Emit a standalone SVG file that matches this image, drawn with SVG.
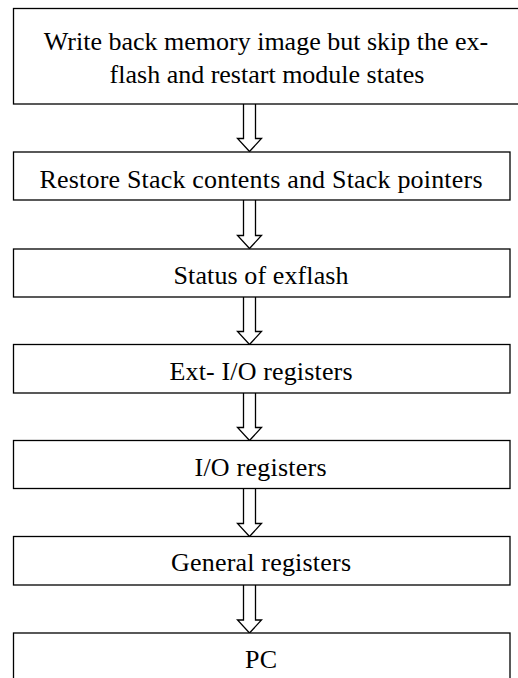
<svg xmlns="http://www.w3.org/2000/svg" width="518" height="678" viewBox="0 0 518 678">
  <defs>
    <style>
      .box { fill: #ffffff; stroke: #000000; stroke-width: 1.3; }
      .lbl { font-family: "Liberation Serif", "Times New Roman", serif; font-size: 26px; fill: #000000; }
      .mid { text-anchor: middle; }
      .arrow { fill: #ffffff; stroke: #000000; stroke-width: 1.3; stroke-linejoin: miter; }
    </style>
  </defs>
  <rect width="518" height="678" fill="#ffffff"/>

  <!-- hollow block arrows between consecutive steps -->
  <g id="connectors">
    <path class="arrow" d="M243.5,104 V138.5 H237.5 L249.5,151.5 L261.5,138.5 H255.5 V104"/>
    <path class="arrow" d="M243.5,200 V235.5 H237.5 L249.5,248.5 L261.5,235.5 H255.5 V200"/>
    <path class="arrow" d="M243.5,297 V331.5 H237.5 L249.5,344.5 L261.5,331.5 H255.5 V297"/>
    <path class="arrow" d="M243.5,393 V427.5 H237.5 L249.5,440.5 L261.5,427.5 H255.5 V393"/>
    <path class="arrow" d="M243.5,488.5 V523.5 H237.5 L249.5,536.5 L261.5,523.5 H255.5 V488.5"/>
    <path class="arrow" d="M243.5,585 V620 H237.5 L249.5,633 L261.5,620 H255.5 V585"/>
  </g>

  <g id="write-back">
    <rect class="box" x="13.5" y="8.5" width="512" height="95.5"/>
    <text class="lbl mid" x="266" y="50">Write back memory image but skip the ex-</text>
    <text class="lbl mid" x="267" y="83">flash and restart module states</text>
  </g>

  <g id="restore-stack">
    <rect class="box" x="13.5" y="152" width="496.5" height="48"/>
    <text class="lbl" x="39.5" y="187.5" textLength="443">Restore Stack contents and Stack pointers</text>
  </g>

  <g id="exflash-status">
    <rect class="box" x="13.5" y="249" width="496.5" height="48"/>
    <text class="lbl" x="173.5" y="283.5" textLength="175">Status of exflash</text>
  </g>

  <g id="ext-io">
    <rect class="box" x="13.5" y="344.5" width="496.5" height="48.5"/>
    <text class="lbl" x="169.5" y="380" textLength="183">Ext- I/O registers</text>
  </g>

  <g id="io">
    <rect class="box" x="13.5" y="440.5" width="496.5" height="48"/>
    <text class="lbl" x="194.5" y="476" textLength="132">I/O registers</text>
  </g>

  <g id="general">
    <rect class="box" x="13.5" y="536.5" width="496.5" height="48.5"/>
    <text class="lbl" x="171" y="571" textLength="180">General registers</text>
  </g>

  <g id="pc">
    <rect class="box" x="13.5" y="633" width="496.5" height="60"/>
    <text class="lbl" x="245" y="668" textLength="32">PC</text>
  </g>
</svg>
